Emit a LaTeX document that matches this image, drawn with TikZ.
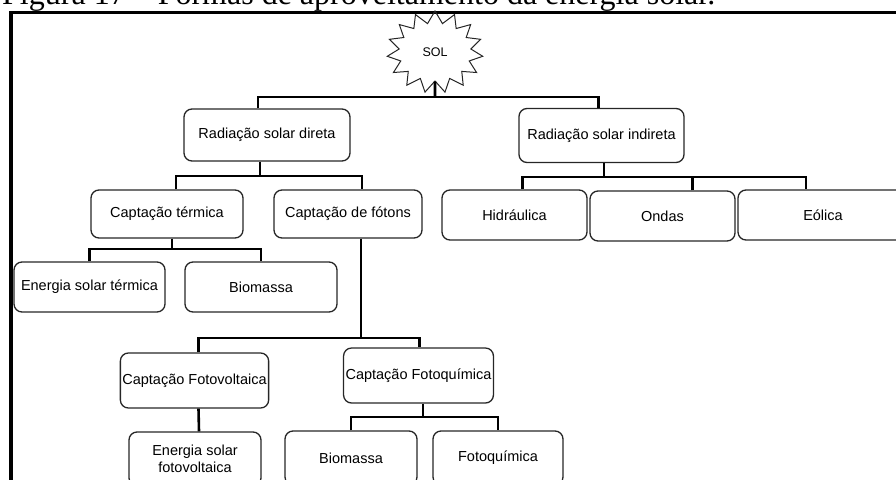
\documentclass[tikz,border=0pt]{standalone}
\usepackage{fontspec}
\setmainfont{Liberation Serif}
\setsansfont{Liberation Sans}
\usetikzlibrary{positioning,shapes.symbols}

\begin{document}
\begin{tikzpicture}[x=1pt, y=-1pt,
  every node/.style={font=\sffamily\fontsize{14.5}{17}\selectfont},
  box/.style={rectangle,draw=black!85,line width=1.3pt,rounded corners=8pt,align=center,inner sep=2pt},
  sun/.style={starburst,draw=black!85,line width=1pt,starburst points=15,starburst point height=12pt,random starburst=0,minimum width=96pt,minimum height=82pt,inner sep=0pt},
  link/.style={line width=2.6pt},
  frame/.style={line width=3.5pt}]

\useasboundingbox (0,0) rectangle (896,479);

% Caption and frame
\node[anchor=base west,inner sep=0pt,font=\rmfamily\fontsize{32}{37}\selectfont] (cap) at (2,5) {Figura 17 – Formas de aproveitamento da energia solar.};
\draw[frame] (905,12.5) -- (11,12.5) -- (11,490);

% Sun
\node[sun] (sol) at (435,52) {\fontsize{12.5}{14}\selectfont SOL};

% Level 1
\node[box,minimum width=166pt,minimum height=52pt] (rdir) at (267,135) {Radiação solar direta};
\node[box,minimum width=165pt,minimum height=54pt] (rind) at (601.5,135.5) {Radiação solar indireta};

% Level 2
\node[box,minimum width=152pt,minimum height=48pt] (cterm) at (167,214) {Captação térmica};
\node[box,minimum width=148pt,minimum height=48pt] (cfot) at (348,214) {Captação de fótons};
\node[box,minimum width=145pt,minimum height=50pt] (hid) at (514.5,215) {Hidráulica};
\node[box,minimum width=145pt,minimum height=50pt] (ond) at (662.5,216) {Ondas};
\node[box,minimum width=170pt,minimum height=50pt] (eol) at (823,215) {Eólica};

% Level 3
\node[box,minimum width=151pt,minimum height=50pt] (est) at (89.5,287) {Energia solar térmica};
\node[box,minimum width=152pt,minimum height=50pt] (bio1) at (261,287) {Biomassa};
\node[box,minimum width=139pt,minimum height=55pt] (cfv) at (194.5,380.5) {Captação Fotovoltaica};
\node[box,minimum width=139pt,minimum height=55pt] (cfq) at (418.5,375.5) {Captação Fotoquímica};

% Level 4
\node[box,minimum width=132pt,minimum height=54pt] (esf) at (195,459) {Energia solar\\fotovoltaica};
\node[box,minimum width=132pt,minimum height=54pt] (bio2) at (351,458) {Biomassa};
\node[box,minimum width=130pt,minimum height=54pt] (fq) at (498,458) {Fotoquímica};

% Junctions
\coordinate (b0) at (435,97);
\coordinate (b1) at (260,176);
\coordinate (b2) at (361,338);
\coordinate (b3) at (172,249);
\coordinate (b4) at (604,177);
\coordinate (b5) at (423,417);

% Connections
\draw[link] (sol) -- (b0);
\draw[link] ([xshift=-9]rdir.north) |- (b0) -| ([xshift=-3]rind.north);

\draw[link] (rdir.south -| b1) -- (b1);
\draw[link] ([xshift=9]cterm.north) |- (b1) -| ([xshift=14]cfot.north);

\draw[link] (cterm.south -| b3) -- (b3);
\draw[link] (est.north) |- (b3) -| (bio1.north);

\draw[link] (cfot.south -| b2) -- (b2);
\draw[link] ([xshift=4]cfv.north) |- (b2) -| ([xshift=1]cfq.north);
\draw[link] ([xshift=4]cfv.south) -- ([xshift=4]esf.north);

\draw[link] (cfq.south -| b5) -- (b5);
\draw[link] (bio2.north) |- (b5) -| (fq.north);

\draw[link] (rind.south -| b4) -- (b4);
\draw[link] ([xshift=8]hid.north) |- (b4) -| ([xshift=-17]eol.north);
\draw[link] ([xshift=30]ond.north) -- +(0,-13);

\end{tikzpicture}
\end{document}
